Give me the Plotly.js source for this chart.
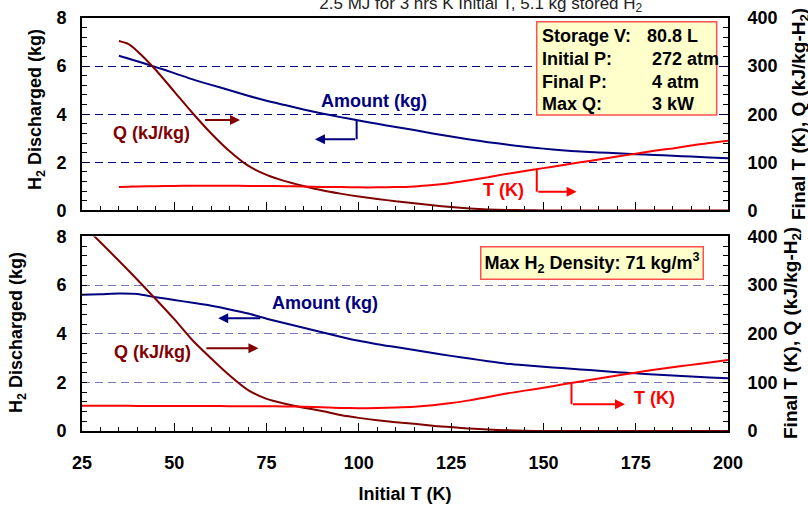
<!DOCTYPE html>
<html>
<head>
<meta charset="utf-8">
<script src="https://cdn.plot.ly/plotly-3.0.1.min.js"></script>
<style>html,body{margin:0;padding:0;background:#fff;}#chart{width:808px;height:512px;}</style>
</head>
<body>
<div id="chart"></div>
<script>
// ---- data ----
const initTTop = [35,37.5,40,45,50,55,60,65,70,75,80,85,90,95,100,105,110,115,120,125,130,135,140,145,150,155,160,165,170,175,180,185,190,195,200];
const amountTop = [6.43,6.32,6.2,5.96,5.71,5.45,5.22,5.0,4.77,4.56,4.38,4.2,4.03,3.88,3.74,3.6,3.47,3.34,3.2,3.07,2.95,2.84,2.74,2.65,2.57,2.5,2.45,2.41,2.38,2.34,2.31,2.27,2.24,2.2,2.17];
const qTop = [352,346,331,292,247,202,160,123,93,74,61,51,42,35,29,24,19,15,11,7,4,2,1,0.5,0,0,0,0,0,0,0,0,0,0,0];
const finalTTop = [49,49.5,50,50.5,51,51.5,51.5,51.5,51,51,50.5,50,49,48.5,48,48,48.5,50,53,57,63,69,76,82,88,94,100,106,112,118,124,129,135,140,145];

const initTBot = [25,30,35,40,45,50,55,60,65,70,75,80,85,90,95,100,105,110,115,120,125,130,135,140,145,150,155,160,165,170,175,180,185,190,195,200];
const amountBot = [5.6,5.62,5.65,5.63,5.5,5.39,5.27,5.15,5.0,4.83,4.62,4.43,4.25,4.06,3.88,3.71,3.57,3.45,3.33,3.21,3.09,2.98,2.87,2.77,2.7,2.64,2.59,2.53,2.48,2.42,2.37,2.32,2.28,2.24,2.2,2.17];
const qBot = [426,388,350,311,271,230,186,149,114,84,66,56,48,41,33,27,22,18,15,11,8,5,3,1.5,0.5,0,0,0,0,0,0,0,0,0,0,0];
const finalTBot = [52,52,52,51.5,51.5,51.5,51.5,51.5,51,51,51,50.5,50,49,47.5,47,47.5,48.5,50,53,57.5,63,70,77,83,89,95.5,102,108,114,120,126,131,136,141,146];

const xTicks = [25,50,75,100,125,150,175,200];
const leftTicks = [0,2,4,6,8];
const rightTicks = [0,100,200,300,400];

const titleText = "2.5 MJ for 3 hrs K Initial T, 5.1 kg stored H<sub>2</sub>";
const leftTitle = "H<sub>2</sub> Discharged (kg)";
const rightTitle = "Final T (K), Q (kJ/kg-H<sub>2</sub>)";
const infoLabels = ["Storage V:", "Initial P:", "Final P:", "Max Q:"];
const infoValues = ["80.8 L", "272 atm", "4 atm", "3 kW"];
const densityText = "Max H<sub>2</sub> Density: 71 kg/m<sup>3</sup>";

// ---- styling ----
const NAVY = "#000080", DRED = "#800000", RED = "#ff0000";
const FONT = "Liberation Sans, Arial, sans-serif";
const FS = 18;
const bold = (s) => "<b>" + s + "</b>";

function line(x, y, xa, ya, color, name) {
  return {x: x, y: y, xaxis: xa, yaxis: ya, type: "scatter", mode: "lines", name: name,
    line: {color: color, width: 2, shape: "spline", smoothing: 0.7}, hoverinfo: "skip", showlegend: false};
}

const traces = [
  line(initTTop, amountTop, "x", "y", NAVY, "Amount (kg)"),
  line(initTTop, qTop, "x", "y2", DRED, "Q (kJ/kg)"),
  line(initTTop, finalTTop, "x", "y2", RED, "T (K)"),
  line(initTBot, amountBot, "x2", "y3", NAVY, "Amount (kg)"),
  line(initTBot, qBot, "x2", "y4", DRED, "Q (kJ/kg)"),
  line(initTBot, finalTBot, "x2", "y4", RED, "T (K)")
];

const tickFont = {family: FONT, size: FS, color: "#000"};

function xAxis(anchor, showLabels) {
  return {
    range: [25, 200], anchor: anchor, tickvals: xTicks, ticktext: xTicks.map(v => bold(v)),
    showticklabels: showLabels, ticks: "inside", ticklen: 8, tickwidth: 1, tickcolor: "#000",
    minor: {dtick: 5, ticks: "inside", ticklen: 4, tickcolor: "#000", tickwidth: 1},
    showline: true, linecolor: "#000", linewidth: 2, mirror: true, showgrid: false, zeroline: false,
    tickfont: tickFont, ticklabelstandoff: 14, fixedrange: true
  };
}
function leftAxis(domain, gridcolor) {
  return {
    domain: domain, range: [0, 8], tickvals: leftTicks, ticktext: leftTicks.map(v => bold(v)),
    ticks: "inside", ticklen: 5, tickcolor: "#000",
    minor: {dtick: 0.4, ticks: "inside", ticklen: 5, tickcolor: "#000", tickwidth: 1},
    showline: true, linecolor: "#000", linewidth: 2, mirror: true,
    showgrid: true, gridcolor: gridcolor, griddash: "8px,5px", gridwidth: 1, zeroline: false,
    tickfont: tickFont, ticklabelstandoff: 10, fixedrange: true
  };
}
function rightAxis(overlay, anchor, domain) {
  return {
    overlaying: overlay, side: "right", anchor: anchor, range: [0, 400], domain: domain,
    tickvals: rightTicks, ticktext: rightTicks.map(v => bold(v)),
    ticks: "inside", ticklen: 5, tickcolor: "#000",
    minor: {dtick: 20, ticks: "inside", ticklen: 5, tickcolor: "#000", tickwidth: 1},
    showline: true, linecolor: "#000", linewidth: 2, showgrid: false, zeroline: false,
    tickfont: tickFont, ticklabelstandoff: 14, fixedrange: true
  };
}

const topDomain = [0.534, 1];
const botDomain = [0, 0.471];

const layout = {
  width: 808, height: 512,
  margin: {l: 82, r: 80, t: 18, b: 81},
  paper_bgcolor: "#fff", plot_bgcolor: "#fff",
  font: {family: FONT, color: "#000"},
  title: {text: titleText, font: {family: FONT, size: 17, color: "#222"}, x: 0.595, xanchor: "center",
    y: 0.995, yref: "container", yanchor: "middle"},
  xaxis: xAxis("y", false),
  xaxis2: Object.assign(xAxis("y3", true), {title: {text: bold("Initial T (K)"), font: {family: FONT, size: FS, color: "#000"}, standoff: 16}}),
  yaxis: leftAxis(topDomain, NAVY),
  yaxis2: rightAxis("y", "x", topDomain),
  yaxis3: leftAxis(botDomain, "#7777bb"),
  yaxis4: rightAxis("y3", "x2", botDomain),
  showlegend: false,
  shapes: [],
  annotations: []
};

const A = layout.annotations, S = layout.shapes;
function label(text, x, y, xref, yref, color) {
  A.push({text: bold(text), x: x, y: y, xref: xref, yref: yref, showarrow: false,
    font: {family: FONT, size: FS, color: color}, xanchor: "center", yanchor: "middle"});
}
function arrow(xHead, xTail, y, xref, yref, color) {
  A.push({text: "", x: xHead, y: y, ax: xTail, ay: y, xref: xref, yref: yref, axref: xref, ayref: yref,
    showarrow: true, arrowhead: 2, arrowsize: 1, arrowwidth: 2, arrowcolor: color});
}
function vline(x, y0, y1, xref, yref, color) {
  S.push({type: "line", x0: x, x1: x, y0: y0, y1: y1, xref: xref, yref: yref, line: {color: color, width: 2}});
}

// top panel labels & pointers
label("Amount (kg)", 104.1, 4.55, "x", "y", NAVY);
vline(99.4, 3.76, 2.96, "x", "y", NAVY);
arrow(88.1, 99.4, 2.96, "x", "y", NAVY);
label("Q (kJ/kg)", 43.7, 3.2, "x", "y", DRED);
arrow(67.8, 57.9, 3.76, "x", "y", DRED);
label("T (K)", 139.3, 0.85, "x", "y", RED);
vline(148.2, 1.68, 0.775, "x", "y", RED);
arrow(159.0, 148.2, 0.775, "x", "y", RED);

// bottom panel labels & pointers
label("Amount (kg)", 90.8, 5.26, "x2", "y3", NAVY);
arrow(61.9, 73.7, 4.64, "x2", "y3", NAVY);
label("Q (kJ/kg)", 44.2, 3.26, "x2", "y3", DRED);
arrow(72.8, 58.3, 3.40, "x2", "y3", DRED);
label("T (K)", 180.2, 1.35, "x2", "y3", RED);
vline(157.6, 1.99, 1.10, "x2", "y3", RED);
arrow(172.1, 157.6, 1.10, "x2", "y3", RED);

// info box (top)
S.push({type: "rect", xref: "paper", yref: "paper", x0: 0.7039, x1: 0.9825, y0: 0.7651, y1: 0.9911,
  fillcolor: "#ffffcc", line: {color: "#ff5050", width: 1.5}, layer: "above"});
const rowsY = [0.9564, 0.9007, 0.8450, 0.7918];
const valX = [0.8715, 0.879, 0.879, 0.879];
infoLabels.forEach((t, i) => {
  A.push({text: bold(t), x: 0.709, y: rowsY[i], xref: "paper", yref: "paper", showarrow: false,
    xanchor: "left", yanchor: "middle", font: {family: FONT, size: FS, color: "#000"}});
  A.push({text: bold(infoValues[i]), x: valX[i], y: rowsY[i], xref: "paper", yref: "paper", showarrow: false,
    xanchor: "left", yanchor: "middle", font: {family: FONT, size: FS, color: "#000"}});
});

// density box (bottom)
A.push({text: bold(densityText), x: 0.790, y: 0.4068, xref: "paper", yref: "paper", showarrow: false,
  xanchor: "center", yanchor: "middle", font: {family: FONT, size: FS, color: "#000"},
  bgcolor: "#ffffcc", bordercolor: "#ff5050", borderwidth: 1.5, borderpad: 3});

// axis titles (left and right)
function vtitle(text, xpx, ypx, size) {
  A.push({text: bold(text), x: (xpx - 82) / 646, y: (431 - ypx) / 413, xref: "paper", yref: "paper",
    showarrow: false, textangle: -90, xanchor: "center", yanchor: "middle",
    font: {family: FONT, size: size, color: "#000"}});
}
vtitle(leftTitle, 36, 110, 18);
vtitle(leftTitle, 17, 333, 18);
vtitle(rightTitle, 800, 114, 19);
vtitle(rightTitle, 792, 333, 19);

Plotly.newPlot("chart", traces, layout, {staticPlot: true, displayModeBar: false});
</script>
</body>
</html>
